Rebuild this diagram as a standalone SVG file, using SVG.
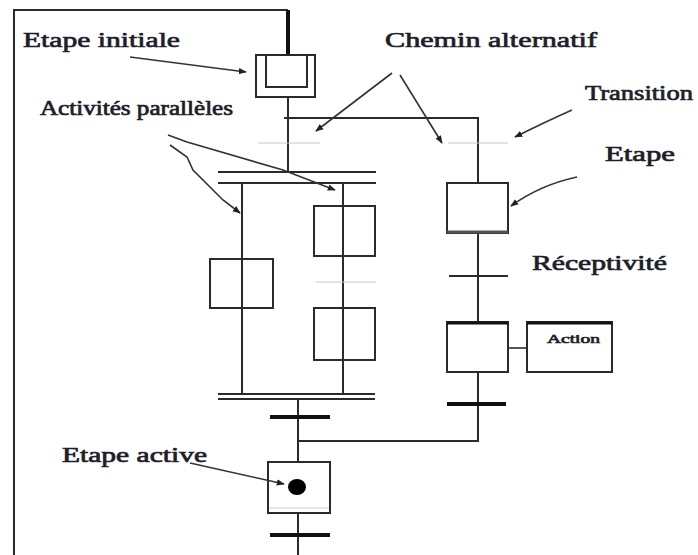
<svg xmlns="http://www.w3.org/2000/svg" width="698" height="555" viewBox="0 0 698 555">
  <style>
    .ln { stroke: #2b2b2b; stroke-width: 2; fill: none; }
    .thin { stroke: #2b2b2b; stroke-width: 1.6; fill: none; }
    .bar { stroke: #111; stroke-width: 4; fill: none; }
    .faint { stroke: #c8c8c8; stroke-width: 1.2; fill: none; }
    .box { stroke: #2b2b2b; stroke-width: 2; fill: #fff; }
    .ann { stroke: #333; stroke-width: 1.6; fill: none; marker-end: url(#head); }
    .lbl { font-family: "Liberation Serif", "Times New Roman", serif; font-weight: normal; fill: #1e1e2a; stroke: #1e1e2a; stroke-width: 0.7; }
  </style>
  <defs>
    <marker id="head" viewBox="0 0 10 10" refX="9" refY="5" markerWidth="5" markerHeight="5" orient="auto" markerUnits="strokeWidth">
      <path d="M0,1 L10,5 L0,9 z" fill="#222"/>
    </marker>
  </defs>

  <rect width="698" height="555" fill="#fff"/>

  <!-- frame and structural links -->
  <g id="connectors">
    <path class="ln" d="M14,555 V10 H288"/>
    <line x1="288" y1="10" x2="288" y2="55" stroke="#111" stroke-width="4"/>
    <line class="ln" x1="288" y1="97" x2="288" y2="172"/>
    <path class="ln" d="M284,118 H478 V183"/>
    <line class="faint" x1="258" y1="143" x2="320" y2="143"/>
    <line class="faint" x1="448" y1="143" x2="508" y2="143"/>
    <!-- parallel divergence -->
    <line class="ln" x1="218" y1="172" x2="376" y2="172"/>
    <line class="ln" x1="218" y1="183" x2="376" y2="183"/>
    <line class="ln" x1="242" y1="183" x2="242" y2="395"/>
    <line class="ln" x1="343" y1="183" x2="343" y2="395"/>
    <line class="faint" x1="316" y1="282" x2="376" y2="282"/>
    <!-- parallel convergence -->
    <line class="ln" x1="218" y1="394" x2="375" y2="394"/>
    <line class="ln" x1="218" y1="399" x2="375" y2="399"/>
    <line class="ln" x1="298" y1="399" x2="298" y2="462"/>
    <line class="bar" x1="270" y1="417" x2="330" y2="417"/>
    <path class="ln" d="M298,441 H478 V233"/>
    <line class="ln" x1="449" y1="276" x2="508" y2="276"/>
    <line class="bar" x1="447" y1="404" x2="506" y2="404"/>
    <line class="thin" x1="508" y1="348" x2="527" y2="348"/>
    <line class="ln" x1="298" y1="513" x2="298" y2="555"/>
    <line class="bar" x1="270" y1="535" x2="330" y2="535"/>
  </g>

  <!-- steps -->
  <g id="step-initial">
    <rect class="box" x="256" y="55" width="59" height="42"/>
    <path class="ln" d="M266,55 V87 H307 V55"/>
  </g>
  <g id="step-par-left">
    <rect class="box" x="210" y="259" width="63" height="49"/>
    <line class="ln" x1="242" y1="259" x2="242" y2="308"/>
  </g>
  <g id="step-par-right-1">
    <rect class="box" x="314" y="206" width="61" height="50"/>
    <line class="ln" x1="343" y1="206" x2="343" y2="256"/>
  </g>
  <g id="step-par-right-2">
    <rect class="box" x="314" y="308" width="61" height="52"/>
    <line class="ln" x1="343" y1="308" x2="343" y2="360"/>
  </g>
  <g id="step-alt-1">
    <rect class="box" x="447" y="183" width="61" height="50"/>
    <line x1="447" y1="232" x2="508" y2="232" stroke="#555" stroke-width="3"/>
  </g>
  <g id="step-alt-2">
    <rect class="box" x="447" y="322" width="61" height="50"/>
    <line x1="447" y1="323" x2="508" y2="323" stroke="#111" stroke-width="3"/>
  </g>
  <g id="action">
    <rect class="box" x="527" y="322" width="85" height="50"/>
    <line x1="527" y1="323" x2="612" y2="323" stroke="#111" stroke-width="3"/>
    <text class="lbl" x="547" y="343" font-size="13" stroke-width="0.35" textLength="53" lengthAdjust="spacingAndGlyphs">Action</text>
  </g>
  <g id="step-active">
    <rect class="box" x="268" y="462" width="62" height="51"/>
    <line x1="269" y1="508" x2="329" y2="508" stroke="#d0d0d0" stroke-width="1.2"/>
    <ellipse cx="297" cy="487" rx="9" ry="8" fill="#000"/>
  </g>

  <!-- annotation labels and pointers -->
  <g id="annotations">
    <text class="lbl" x="23" y="47" font-size="22" textLength="157" lengthAdjust="spacingAndGlyphs">Etape initiale</text>
    <path class="ann" d="M130,57 L246,72"/>

    <text class="lbl" x="385" y="47" font-size="22" textLength="212" lengthAdjust="spacingAndGlyphs">Chemin alternatif</text>
    <path class="ann" d="M392,73 L316,131"/>
    <path class="ann" d="M400,75 L442,143"/>

    <text class="lbl" x="585" y="100" font-size="21" stroke-width="0.3" textLength="108" lengthAdjust="spacingAndGlyphs">Transition</text>
    <path class="ann" d="M572,110 Q545,122 515,137"/>

    <text class="lbl" x="605" y="161" font-size="22" textLength="70" lengthAdjust="spacingAndGlyphs">Etape</text>
    <path class="ann" d="M577,177 Q540,185 511,206"/>

    <text class="lbl" x="40" y="115" font-size="20" stroke-width="0.9" textLength="193" lengthAdjust="spacingAndGlyphs">Activités parallèles</text>
    <path class="ann" d="M168,135 L187,142 L283,170 L335,190"/>
    <path class="ann" d="M170,145 L187,157 L193,170 L223,200 L240,213"/>

    <text class="lbl" x="532" y="270" font-size="21" stroke-width="0.9" textLength="135" lengthAdjust="spacingAndGlyphs">Réceptivité</text>

    <text class="lbl" x="62" y="462" font-size="21" textLength="145" lengthAdjust="spacingAndGlyphs">Etape active</text>
    <path class="ann" d="M190,463 L284,484"/>
  </g>
</svg>
